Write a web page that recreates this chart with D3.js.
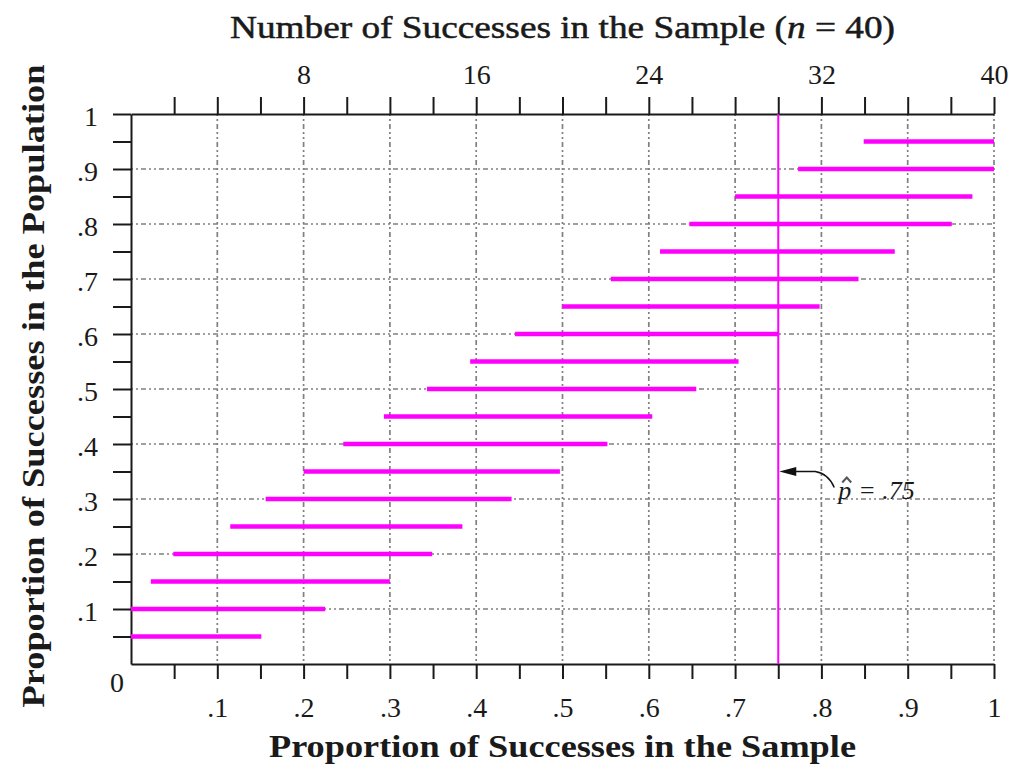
<!DOCTYPE html>
<html>
<head>
<meta charset="utf-8">
<script src="https://cdn.jsdelivr.net/npm/d3@7"></script>
<style>
  body { margin: 0; background: #fff; }
  text { font-family: "Liberation Serif", "DejaVu Serif", serif; fill: #1a1a1a; }
  .axis path, .axis line { stroke: #1a1a1a; stroke-width: 2px; }
  .grid line { stroke: #808080; stroke-width: 1.7px; stroke-dasharray: 2,3,2,3,5,3; }
</style>
</head>
<body>
<div id="content"></div>
<script>
// population proportion (row) and the sample proportions accepted for it
var popProp = [.05, .10, .15, .20, .25, .30, .35, .40, .45, .50,
               .55, .60, .65, .70, .75, .80, .85, .90, .95];
var lowerProp = [0, 0, .023, .049, .115, .156, .200, .246, .293, .343,
                 .393, .445, .500, .556, .613, .647, .700, .773, .849];
var upperProp = [.151, .225, .300, .349, .384, .441, .497, .552, .604, .655,
                 .704, .751, .798, .843, .885, .951, .975, 1, 1];

var minorTicks = d3.range(1, 21).map(function(i) { return i * 0.05; });
var gridVals = d3.range(1, 11).map(function(i) { return i / 10; });
var propLabels = [".1", ".2", ".3", ".4", ".5", ".6", ".7", ".8", ".9", "1"];
var countTicks = d3.range(1, 21).map(function(i) { return i * 2; });
var countLabels = ["8", "16", "24", "32", "40"];
var sampleSize = 40;
var pHat = 0.75;
var arrowAt = 0.35;

var margin = {top: 114, right: 34, bottom: 104, left: 131};
var width = 1028 - margin.left - margin.right;
var height = 768 - margin.top - margin.bottom;

var svg = d3.select("#content").append("svg")
  .attr("width", 1028).attr("height", 768);
var g = svg.append("g")
  .attr("transform", "translate(" + margin.left + "," + margin.top + ")");

var x = d3.scaleLinear().domain([0, 1]).range([0, width]);
var y = d3.scaleLinear().domain([0, 1]).range([height, 0]);
var xn = d3.scaleLinear().domain([0, sampleSize]).range([0, width]);

function propLabel(d) {
  var k = Math.round(d * 10);
  return (Math.abs(d * 10 - k) < 1e-6) ? propLabels[k - 1] : "";
}

// grid
var grid = g.append("g").attr("class", "grid");
grid.selectAll(".v").data(gridVals).enter().append("line")
  .attr("x1", function(d) { return x(d); }).attr("x2", function(d) { return x(d); })
  .attr("y1", 0).attr("y2", height);
grid.selectAll(".h").data(gridVals.slice(0, 9)).enter().append("line")
  .attr("y1", function(d) { return y(d); }).attr("y2", function(d) { return y(d); })
  .attr("x1", 0).attr("x2", width);

// axes
var bottomAxis = g.append("g").attr("class", "axis")
  .attr("transform", "translate(0," + height + ")")
  .call(d3.axisBottom(x).tickValues(minorTicks).tickSize(15).tickSizeOuter(0).tickFormat(propLabel));
bottomAxis.selectAll("text").attr("y", 53).attr("dy", 0).style("font-size", "28px");

var leftAxis = g.append("g").attr("class", "axis")
  .call(d3.axisLeft(y).tickValues(minorTicks).tickSize(18).tickSizeOuter(0).tickFormat(propLabel));
leftAxis.selectAll("text").attr("x", -33).attr("dy", 11).style("font-size", "28px");

var topAxis = g.append("g").attr("class", "axis")
  .call(d3.axisTop(xn).tickValues(countTicks).tickSize(17).tickSizeOuter(0)
    .tickFormat(function(d) { return d % 8 === 0 ? countLabels[d / 8 - 1] : ""; }));
topAxis.selectAll("text").attr("y", -30).attr("dy", 0).style("font-size", "28px");

svg.selectAll(".axis text").attr("fill", "#1a1a1a").style("font-family", '"Liberation Serif", serif');

g.append("text").attr("x", -14).attr("y", height + 28)
  .attr("text-anchor", "middle").style("font-size", "28px").text("0");

// acceptance intervals
g.append("g").selectAll("line").data(popProp).enter().append("line")
  .attr("x1", function(d, i) { return x(lowerProp[i]); })
  .attr("x2", function(d, i) { return x(upperProp[i]); })
  .attr("y1", function(d) { return y(d); })
  .attr("y2", function(d) { return y(d); })
  .attr("stroke", "#ff00ff").attr("stroke-width", 4.5);

// observed sample proportion
g.append("line")
  .attr("x1", x(pHat)).attr("x2", x(pHat)).attr("y1", 0).attr("y2", height)
  .attr("stroke", "#ff00ff").attr("stroke-width", 2);

// annotation arrow
var ax = x(pHat), ay = y(arrowAt);
g.append("path")
  .attr("d", "M" + (ax + 1) + "," + ay + "l17,-4.5l0,9z")
  .attr("fill", "#111");
g.append("path")
  .attr("d", "M" + (ax + 15) + "," + ay + "L" + (ax + 37) + "," + ay +
        "Q" + (ax + 50) + "," + (ay + 2) + " " + (ax + 56) + "," + (ay + 16))
  .attr("fill", "none").attr("stroke", "#111").attr("stroke-width", 1.5);

var ann = g.append("text")
  .attr("x", ax + 60).attr("y", ay + 27)
  .style("font-size", "26px").style("font-style", "italic").attr("fill", "#555");
ann.append("tspan").text("p");
ann.append("tspan").attr("dx", 7).text("= .75");
// hat over the p
g.append("path")
  .attr("d", "M" + (ax + 64) + "," + (ay + 11) + "l4.5,-5l4.5,5")
  .attr("fill", "none").attr("stroke", "#555").attr("stroke-width", 2);

// titles
svg.append("text")
  .attr("x", margin.left + width / 2).attr("y", 38)
  .attr("text-anchor", "middle")
  .attr("textLength", 665).attr("lengthAdjust", "spacingAndGlyphs")
  .style("font-size", "31px").attr("stroke", "#1a1a1a").attr("stroke-width", 0.5)
  .html('Number of Successes in the Sample (<tspan font-style="italic">n</tspan> = 40)');

svg.append("text")
  .attr("x", margin.left + width / 2).attr("y", 757)
  .attr("text-anchor", "middle")
  .attr("textLength", 587).attr("lengthAdjust", "spacingAndGlyphs")
  .style("font-size", "31px").style("font-weight", "bold")
  .text("Proportion of Successes in the Sample");

svg.append("text")
  .attr("transform", "translate(44," + (margin.top + height / 2 - 3) + ") rotate(-90)")
  .attr("text-anchor", "middle")
  .attr("textLength", 643).attr("lengthAdjust", "spacingAndGlyphs")
  .style("font-size", "31px").style("font-weight", "bold")
  .text("Proportion of Successes in the Population");
</script>
</body>
</html>
